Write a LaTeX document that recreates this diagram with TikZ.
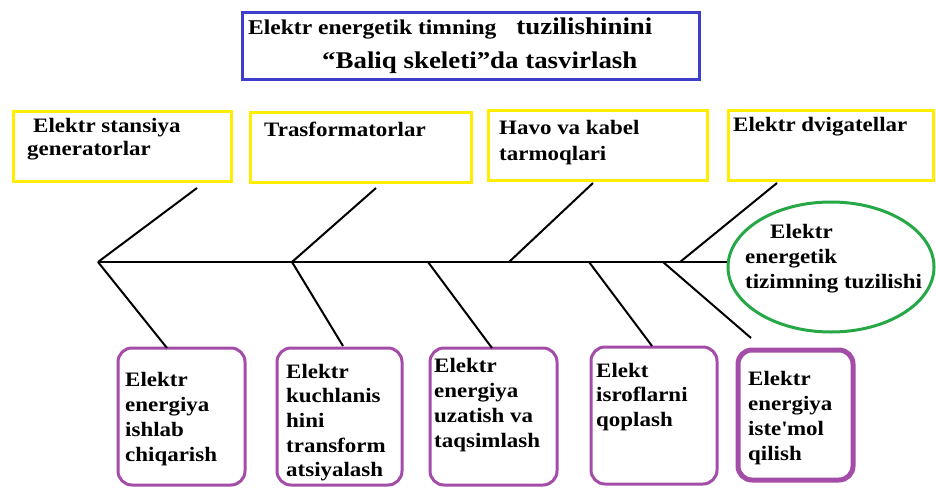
\documentclass[tikz,border=0pt]{standalone}
\usepackage{fontspec}
\setmainfont{Liberation Serif}[FakeStretch=1.12]
\usepackage{tikz}
\usetikzlibrary{shapes.geometric}

\definecolor{titleblue}{RGB}{62,62,204}
\definecolor{boxyellow}{RGB}{255,238,0}
\definecolor{boxpurple}{RGB}{163,76,168}
\definecolor{ovalgreen}{RGB}{38,168,70}

\newcommand{\boxfont}{\fontsize{20.5}{24.7}\selectfont\bfseries}

\begin{document}
\begin{tikzpicture}[x=1pt, y=-1pt,
    ybox/.style={draw=boxyellow, line width=3pt, inner sep=0pt},
    pbox/.style={draw=boxpurple, line width=3pt, rounded corners=14pt, inner sep=0pt},
    txt/.style={anchor=base west, align=left, inner sep=0pt, font=\boxfont},
    bone/.style={line width=2pt}]
  \useasboundingbox (0,0) rectangle (936,487);

  % heading
  \node[draw=titleblue, line width=3pt, minimum width=457pt, minimum height=66pt] (head) at (470.5,46) {};
  \node[txt, font=\fontsize{21}{26}\selectfont\bfseries] (head-a) at (248,35)
      {Elektr energetik timning\hspace{20pt}{\fontsize{24}{28}\selectfont tuzilishinini}};
  \node[txt, font=\fontsize{24}{28}\selectfont\bfseries] (head-b) at (322,68)
      {“Baliq skeleti”da tasvirlash};

  % upper boxes (text nodes sit on the baseline of their last line)
  \node[ybox, minimum width=218pt, minimum height=70pt] (gen)   at (122,146)   {};
  \node[ybox, minimum width=221pt, minimum height=70pt] (trans) at (360.5,147) {};
  \node[ybox, minimum width=219pt, minimum height=70pt] (net)   at (597.5,145) {};
  \node[ybox, minimum width=205pt, minimum height=70pt] (motor) at (830.5,145) {};
  \node[txt, font=\fontsize{20.5}{23.5}\selectfont\bfseries] (gen-t) at (27,155.5)
      {\hspace*{6pt}Elektr stansiya\\generatorlar};
  \node[txt] (trans-t) at (264,136) {Trasformatorlar};
  \node[txt, font=\fontsize{20.5}{26}\selectfont\bfseries] (net-t) at (499,160)
      {Havo va kabel\\tarmoqlari};
  \node[txt] (motor-t) at (733,131) {Elektr dvigatellar};

  % head of the fish
  \node[ellipse, draw=ovalgreen, line width=3pt, minimum width=206pt, minimum height=130pt] (goal) at (831,267) {};
  \node[txt] (goal-t) at (745,288)
      {\hspace*{25pt}Elektr\\energetik\\tizimning tuzilishi};

  % lower boxes
  \node[pbox, minimum width=127pt, minimum height=137pt] (make) at (181.5,416.5) {};
  \node[pbox, minimum width=125pt, minimum height=137pt] (volt) at (339.5,416.5) {};
  \node[pbox, minimum width=127pt, minimum height=137pt] (dist) at (493.5,416.5) {};
  \node[pbox, minimum width=126pt, minimum height=137pt] (loss) at (654,415.5)   {};
  \node[pbox, line width=5pt, minimum width=115pt, minimum height=130pt] (use) at (795.5,415) {};
  \node[txt] (make-t) at (125,461)   {Elektr\\energiya\\ishlab\\chiqarish};
  \node[txt] (volt-t) at (286,476.8) {Elektr\\kuchlanis\\hini\\transform\\atsiyalash};
  \node[txt] (dist-t) at (434,447)   {Elektr\\energiya\\uzatish va\\taqsimlash};
  \node[txt] (loss-t) at (596,426.4) {Elekt\\isroflarni\\qoplash};
  \node[txt] (use-t)  at (748,460)   {Elektr\\energiya\\iste\textquotesingle mol\\qilish};

  % spine and bones
  \coordinate (j1) at (98,262);
  \coordinate (j2) at (292,262);
  \coordinate (j3) at (509,262);
  \coordinate (j4) at (680,262);
  \coordinate (j5) at (428,262);
  \coordinate (j6) at (589,262);
  \coordinate (j7) at (663,262);
  \coordinate (u1) at (197,188);
  \coordinate (u2) at (376,188);
  \coordinate (u3) at (593,183);
  \coordinate (u4) at (777,183);
  \coordinate (d1) at (167,348);
  \coordinate (d2) at (343,346);
  \coordinate (d3) at (492,348);
  \coordinate (d4) at (652,346);
  \coordinate (d5) at (751,338);
  \draw[line width=2.5pt] (j1) -- (j1 -| goal.west);
  \draw[bone] (j1) -- (u1)  (j2) -- (u2)  (j3) -- (u3)  (j4) -- (u4);
  \draw[bone] (j1) -- (d1)  (j2) -- (d2)  (j5) -- (d3)  (j6) -- (d4)  (j7) -- (d5);
\end{tikzpicture}
\end{document}
